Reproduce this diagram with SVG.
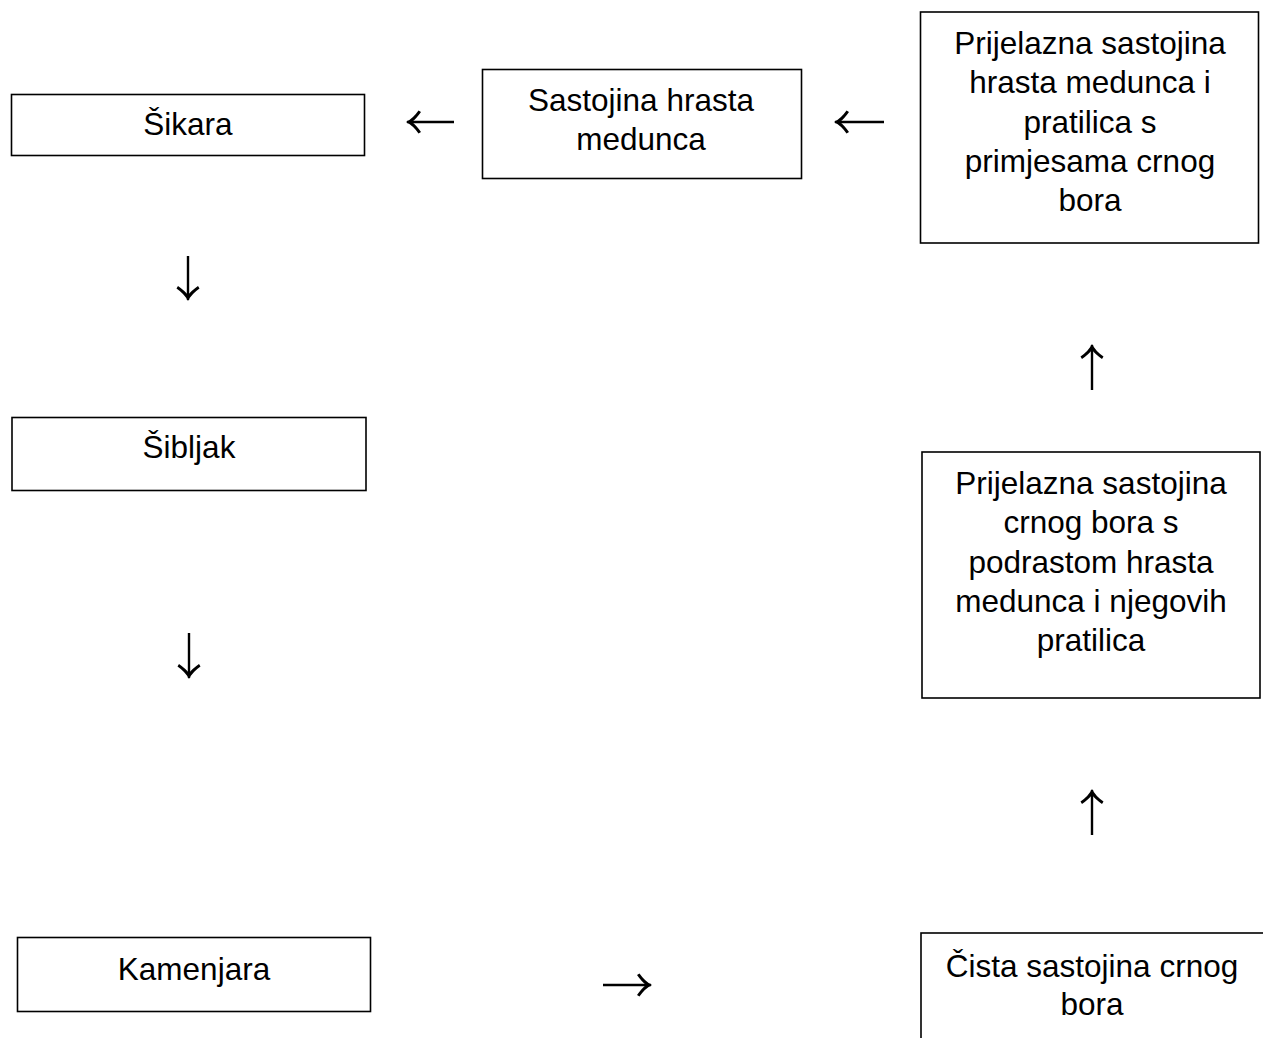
<svg xmlns="http://www.w3.org/2000/svg" width="1263" height="1038" viewBox="0 0 1263 1038">
<style>
.box{fill:#fff;stroke:#000;stroke-width:1.6}
.t{font-family:"Liberation Sans",Arial,sans-serif;font-size:31.5px;fill:#000;text-anchor:middle}
.c{fill:none;stroke:#000;stroke-width:2.4}
</style>
<defs>
<marker id="ah" markerUnits="userSpaceOnUse" viewBox="-16 -13 18 26" refX="0" refY="0" markerWidth="18" markerHeight="26" orient="auto">
<path d="M1,0 Q-6,-3.5 -11.5,-11.5 L-14,-10 Q-9,-3 -5,0 Q-9,3 -14,10 L-11.5,11.5 Q-6,3.5 1,0 Z" fill="#000"/>
</marker>
</defs>
<rect width="1263" height="1038" fill="#fff"/>
<g id="sikara">
<rect class="box" x="11.5" y="94.5" width="353" height="61"/>
<text class="t" x="188" y="135">Šikara</text>
</g>
<g id="sastojina-hrasta-medunca">
<rect class="box" x="482.5" y="69.5" width="319" height="109"/>
<text class="t" x="641" y="111">Sastojina hrasta</text>
<text class="t" x="641" y="150">medunca</text>
</g>
<g id="prijelazna-hrast">
<rect class="box" x="920.5" y="12" width="338" height="231"/>
<text class="t" x="1090" y="54">Prijelazna sastojina</text>
<text class="t" x="1090" y="93">hrasta medunca i</text>
<text class="t" x="1090" y="132.5">pratilica s</text>
<text class="t" x="1090" y="172">primjesama crnog</text>
<text class="t" x="1090" y="211">bora</text>
</g>
<g id="sibljak">
<rect class="box" x="12" y="417.5" width="354" height="73"/>
<text class="t" x="189" y="458">Šibljak</text>
</g>
<g id="prijelazna-bor">
<rect class="box" x="922" y="452" width="338" height="246"/>
<text class="t" x="1091" y="494">Prijelazna sastojina</text>
<text class="t" x="1091" y="533">crnog bora s</text>
<text class="t" x="1091" y="572.5">podrastom hrasta</text>
<text class="t" x="1091" y="612">medunca i njegovih</text>
<text class="t" x="1091" y="651">pratilica</text>
</g>
<g id="kamenjara">
<rect class="box" x="17.5" y="937.5" width="353" height="74"/>
<text class="t" x="194" y="980">Kamenjara</text>
</g>
<g id="cista-sastojina">
<rect class="box" x="921" y="933" width="360" height="200"/>
<text class="t" x="1092" y="977">Čista sastojina crnog</text>
<text class="t" x="1092" y="1015">bora</text>
</g>
<g id="connectors">
<path class="c" d="M454,122 H407" marker-end="url(#ah)"/>
<path class="c" d="M884,122 H835" marker-end="url(#ah)"/>
<path class="c" d="M188,256 V300" marker-end="url(#ah)"/>
<path class="c" d="M189,633 V678" marker-end="url(#ah)"/>
<path class="c" d="M603,985 H651" marker-end="url(#ah)"/>
<path class="c" d="M1092,835 V790" marker-end="url(#ah)"/>
<path class="c" d="M1092,390 V345" marker-end="url(#ah)"/>
</g>
</svg>
